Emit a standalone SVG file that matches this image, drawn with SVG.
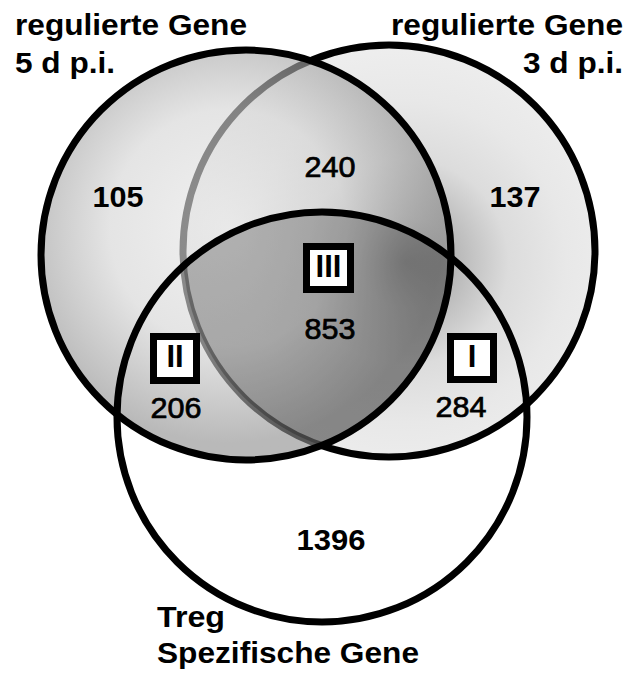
<svg xmlns="http://www.w3.org/2000/svg" width="627" height="673" viewBox="0 0 627 673">
<style>
.lbl{font-family:"Liberation Sans",Arial,sans-serif;font-weight:bold;font-size:29px;fill:#000}
.num{font-family:"Liberation Sans",Arial,sans-serif;font-size:29px;fill:#000;text-anchor:middle;stroke:#000;stroke-width:0.7}
.b{font-weight:bold;stroke-width:0}
.rom{font-family:"Liberation Sans",Arial,sans-serif;font-weight:bold;font-size:31px;fill:#000;text-anchor:middle}
.ring{fill:none;stroke:#000;stroke-width:7}
.box{fill:#fff;stroke:#000;stroke-width:7}
</style>
<defs>
<radialGradient id="gR" gradientUnits="userSpaceOnUse" cx="405" cy="262" r="230">
<stop offset="0" stop-color="#808080"/>
<stop offset="0.2" stop-color="#b5b5b5"/>
<stop offset="0.45" stop-color="#dcdcdc"/>
<stop offset="0.7" stop-color="#e8e8e8"/>
<stop offset="1" stop-color="#efefef"/>
</radialGradient>
<radialGradient id="gL" gradientUnits="userSpaceOnUse" cx="228" cy="228" r="215">
<stop offset="0" stop-color="#e8e8e8"/>
<stop offset="0.55" stop-color="#d4d4d4"/>
<stop offset="1" stop-color="#8e8e8e"/>
</radialGradient>
<clipPath id="cL"><circle cx="246" cy="255" r="205"/></clipPath>
<clipPath id="cR"><circle cx="389" cy="251" r="206"/></clipPath>
<clipPath id="cB"><circle cx="322" cy="417" r="205"/></clipPath>
</defs>
<rect width="627" height="673" fill="#fff"/>
<g id="set-3d">
<circle cx="389" cy="251" r="206" fill="url(#gR)"/>
<circle class="ring" cx="389" cy="251" r="206"/>
</g>
<g id="set-5d">
<circle cx="246" cy="255" r="205" fill="url(#gL)" fill-opacity="0.62"/>
<g clip-path="url(#cL)"><g clip-path="url(#cR)"><circle cx="322" cy="417" r="205" fill="#000" fill-opacity="0.24" clip-path="url(#cB)"/></g></g>
<circle class="ring" cx="246" cy="255" r="205"/>
</g>
<g id="set-treg">
<circle class="ring" cx="322" cy="417" r="205"/>
</g>
<g id="labels">
<text class="lbl" x="15" y="35" textLength="232" lengthAdjust="spacingAndGlyphs">regulierte Gene</text>
<text class="lbl" x="15" y="73" textLength="100" lengthAdjust="spacingAndGlyphs">5 d p.i.</text>
<text class="lbl" x="623" y="35" text-anchor="end" textLength="232" lengthAdjust="spacingAndGlyphs">regulierte Gene</text>
<text class="lbl" x="623" y="73" text-anchor="end" textLength="100" lengthAdjust="spacingAndGlyphs">3 d p.i.</text>
<text class="lbl" x="157" y="627" textLength="68" lengthAdjust="spacingAndGlyphs">Treg</text>
<text class="lbl" x="157" y="663" textLength="262" lengthAdjust="spacingAndGlyphs">Spezifische Gene</text>
</g>
<g id="counts">
<text class="num b" x="118" y="207" textLength="51" lengthAdjust="spacingAndGlyphs">105</text>
<text class="num" x="330" y="177" textLength="51" lengthAdjust="spacingAndGlyphs">240</text>
<text class="num b" x="515" y="207" textLength="51" lengthAdjust="spacingAndGlyphs">137</text>
<text class="num" x="330" y="339" textLength="51" lengthAdjust="spacingAndGlyphs">853</text>
<text class="num" x="176" y="418" textLength="51" lengthAdjust="spacingAndGlyphs">206</text>
<text class="num" x="461" y="417" textLength="51" lengthAdjust="spacingAndGlyphs">284</text>
<text class="num b" x="331" y="550" textLength="69" lengthAdjust="spacingAndGlyphs">1396</text>
</g>
<g id="box-III">
<rect class="box" x="306.5" y="246.5" width="44" height="43"/>
<text class="rom" x="328.5" y="277">III</text>
</g>
<g id="box-II">
<rect class="box" x="153.5" y="336.5" width="43" height="44"/>
<text class="rom" x="175" y="367">II</text>
</g>
<g id="box-I">
<rect class="box" x="450.5" y="336.5" width="43" height="43"/>
<text class="rom" x="472" y="367">I</text>
</g>
</svg>
